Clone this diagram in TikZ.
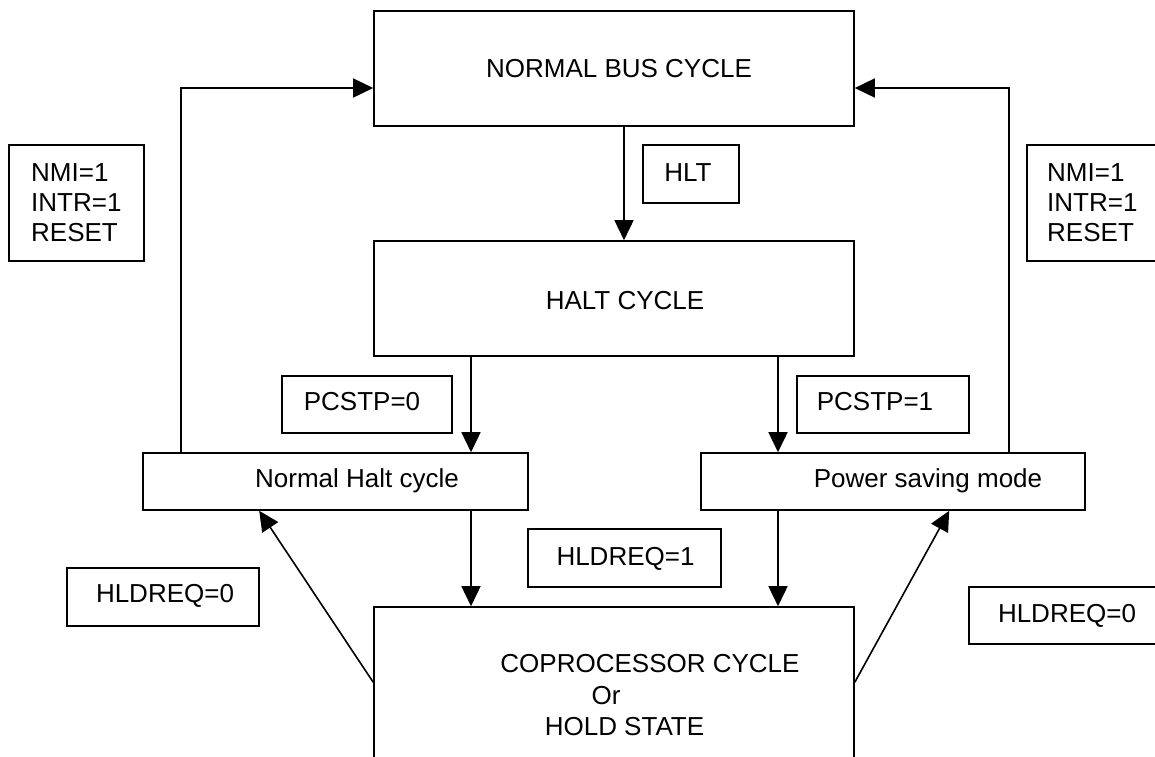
\documentclass[tikz,border=0pt]{standalone}
\usepackage{fontspec}
\setmainfont{Liberation Sans}
\usetikzlibrary{arrows.meta}
\tikzset{
  box/.style={draw=black, line width=1.6pt, inner sep=0pt, fill=none},
  txt/.style={inner sep=0pt, font=\fontsize{26}{30}\selectfont, text height=18.6pt, text depth=0pt},
  arr/.style={line width=1.6pt, -{Triangle[length=20pt,width=19pt]}},
}
\begin{document}
\begin{tikzpicture}[x=1pt,y=-1pt]
\useasboundingbox (0,0) rectangle (1155,756);
\fill[white] (0,0) rectangle (1155,756);
\clip (0,0) rectangle (1155,756);
% boxes
\node[box, minimum width=480pt, minimum height=115pt] (nbc) at (614,68.5) {};
\node[box, minimum width=96pt, minimum height=58pt] (hlt) at (691,174) {};
\node[box, minimum width=480pt, minimum height=115pt] (halt) at (614,298.5) {};
\node[box, minimum width=135pt, minimum height=116pt] (nmiL) at (76.5,203) {};
\node[box, minimum width=135pt, minimum height=116pt] (nmiR) at (1094.5,203) {};
\node[box, minimum width=170pt, minimum height=57pt] (pc0) at (367,404.5) {};
\node[box, minimum width=172pt, minimum height=57pt] (pc1) at (883,404.5) {};
\node[box, minimum width=385pt, minimum height=57pt] (nh) at (335.5,481.5) {};
\node[box, minimum width=384pt, minimum height=57pt] (ps) at (893,481.5) {};
\node[box, minimum width=193pt, minimum height=58pt] (hr1) at (624.5,558) {};
\node[box, minimum width=192pt, minimum height=58pt] (hr0L) at (163,597) {};
\node[box, minimum width=192pt, minimum height=57pt] (hr0R) at (1065,615.5) {};
\node[box, minimum width=480pt, minimum height=213pt] (cop) at (614,713.5) {};
% texts
\node[txt] (tnbc) at (619,68) {NORMAL BUS CYCLE};
\node[txt] (thlt) at (688,172) {HLT};
\node[txt] (thalt) at (625,300) {HALT CYCLE};
\node[txt, anchor=west, align=left] (tnmiL) at (31,232) {NMI=1\\INTR=1\\RESET};
\node[txt, anchor=west, align=left] (tnmiR) at (1047,232) {NMI=1\\INTR=1\\RESET};
\node[txt] (tpc0) at (362,401) {PCSTP=0};
\node[txt] (tpc1) at (875,401) {PCSTP=1};
\node[txt] (tnh) at (357,478) {Normal Halt cycle};
\node[txt] (tps) at (928,478) {Power saving mode};
\node[txt] (thr1) at (625.5,556) {HLDREQ=1};
\node[txt] (thr0L) at (165,593) {HLDREQ=0};
\node[txt] (thr0R) at (1067,613) {HLDREQ=0};
\node[txt] (tcop1) at (650,663) {COPROCESSOR CYCLE};
\node[txt] (tcop2) at (606,695) {Or};
\node[txt] (tcop3) at (624.5,726) {HOLD STATE};
% connectors
\draw[arr] ([xshift=10pt]nbc.south) -- ([xshift=10pt]halt.north);
\draw[arr] ([xshift=-143pt]halt.south) coordinate (a1) -- (a1 |- nh.north);
\draw[arr] ([xshift=164pt]halt.south) coordinate (a2) -- (a2 |- ps.north);
\draw[arr] (a1 |- nh.south) -- (a1 |- cop.north);
\draw[arr] (a2 |- ps.south) -- (a2 |- cop.north);
\draw[arr] ([xshift=39pt]nh.north west) |- ([yshift=-19.5pt]nbc.west);
\draw[arr] ([xshift=-77pt]ps.north east) |- ([yshift=-19.5pt]nbc.east);
\draw[arr] ([yshift=-76pt]cop.north west) -- ([xshift=117pt]nh.south west);
\draw[arr] ([yshift=-76pt]cop.north east) -- ([xshift=249pt]ps.south west);
\end{tikzpicture}
\end{document}
